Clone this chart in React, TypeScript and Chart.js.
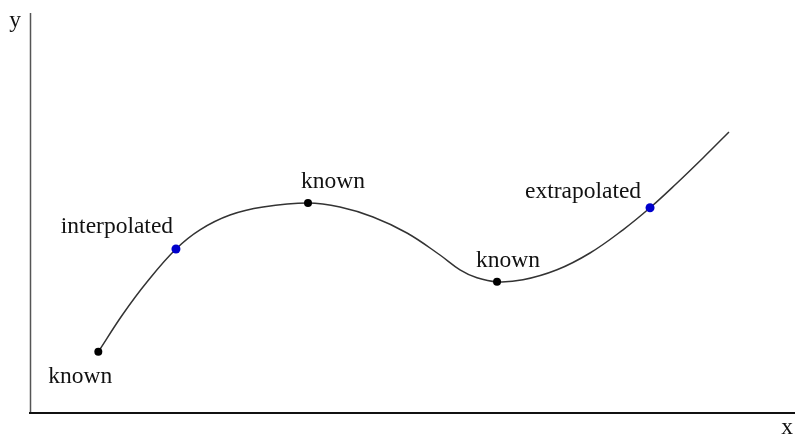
import React, { useEffect, useRef } from "react";
import { Chart, registerables } from "chart.js";

Chart.register(...registerables);

// Curve samples (x, y)
const curveX = [0.893, 1.216, 1.529, 1.908, 2.222, 2.614, 3.046, 3.634, 4.052, 4.484, 4.928, 5.359, 5.621, 5.843, 6.105, 6.444, 6.889, 7.32, 7.752, 8.105, 8.458, 8.797, 9.137];
const curveY = [1.53, 2.475, 3.275, 4.1, 4.58, 4.95, 5.15, 5.25, 5.15, 4.9, 4.5, 3.95, 3.58, 3.38, 3.28, 3.33, 3.58, 4.0, 4.58, 5.13, 5.75, 6.375, 7.025];

// Marked points
const knownX = [0.893, 3.634, 6.105];
const knownY = [1.53, 5.25, 3.28];
const estimatedX = [1.908, 8.105];
const estimatedY = [4.1, 5.13];
const estimatedNames = ["interpolated", "extrapolated"];
const knownName = "known";

const xMin = 0, xMax = 10, yMin = 0, yMax = 10;
const FONT = '23.5px "Liberation Serif", "Times New Roman", serif';

export default function App() {
  const ref = useRef<HTMLCanvasElement>(null);
  useEffect(() => {
    const canvas = ref.current!;
    const labelPlugin = {
      id: "labels",
      afterDraw(chart: any) {
        const { ctx, chartArea, scales } = chart;
        const xs = scales.x, ys = scales.y;
        ctx.save();
        // axes
        ctx.strokeStyle = "#555";
        ctx.lineWidth = 1.5;
        ctx.beginPath();
        ctx.moveTo(chartArea.left + 0.5, chartArea.top);
        ctx.lineTo(chartArea.left + 0.5, chartArea.bottom);
        ctx.stroke();
        ctx.strokeStyle = "#111";
        ctx.lineWidth = 2;
        ctx.beginPath();
        ctx.moveTo(chartArea.left - 1, chartArea.bottom);
        ctx.lineTo(chartArea.right, chartArea.bottom);
        ctx.stroke();

        ctx.font = FONT;
        ctx.fillStyle = "#111";
        ctx.textAlign = "center";
        ctx.textBaseline = "alphabetic";
        ctx.fillText("y", chartArea.left - 15, chartArea.top + 14);
        ctx.fillText("x", chartArea.right - 8, chartArea.bottom + 21);

        const knownOff = [[-18, 31], [25, -15], [11, -15]];
        knownX.forEach((v, i) => {
          const px = xs.getPixelForValue(v), py = ys.getPixelForValue(knownY[i]);
          ctx.fillText(knownName, px + knownOff[i][0], py + knownOff[i][1]);
        });
        const estOff = [[-59, -16], [-67, -10]];
        estimatedX.forEach((v, i) => {
          const px = xs.getPixelForValue(v), py = ys.getPixelForValue(estimatedY[i]);
          ctx.fillText(estimatedNames[i], px + estOff[i][0], py + estOff[i][1]);
        });
        ctx.restore();
      },
    };
    const chart = new Chart(canvas, {
      type: "scatter",
      data: {
        datasets: [
          {
            type: "line",
            data: curveX.map((x, i) => ({ x, y: curveY[i] })),
            borderColor: "#333",
            borderWidth: 1.5,
            pointRadius: 0,
            tension: 0.4,
            fill: false,
            order: 2,
          } as any,
          {
            data: knownX.map((x, i) => ({ x, y: knownY[i] })),
            backgroundColor: "#000",
            borderColor: "#000",
            pointRadius: 4,
            borderWidth: 0,
            order: 1,
          },
          {
            data: estimatedX.map((x, i) => ({ x, y: estimatedY[i] })),
            backgroundColor: "#0000cc",
            borderColor: "#0000cc",
            pointRadius: 4.5,
            borderWidth: 0,
            order: 1,
          },
        ],
      },
      options: {
        animation: false,
        responsive: false,
        devicePixelRatio: 1,
        layout: { autoPadding: false, padding: { left: 30, top: 13, right: 0, bottom: 21 } },
        plugins: { legend: { display: false }, tooltip: { enabled: false } },
        scales: {
          x: { type: "linear", min: xMin, max: xMax, display: false },
          y: { type: "linear", min: yMin, max: yMax, display: false },
        },
      },
      plugins: [labelPlugin],
    });
    return () => chart.destroy();
  }, []);
  return (
    <div style={{ position: "fixed", left: 0, top: 0, width: 795, height: 434, background: "#fff" }}>
      <canvas ref={ref} width={795} height={434} style={{ display: "block" }} />
    </div>
  );
}
